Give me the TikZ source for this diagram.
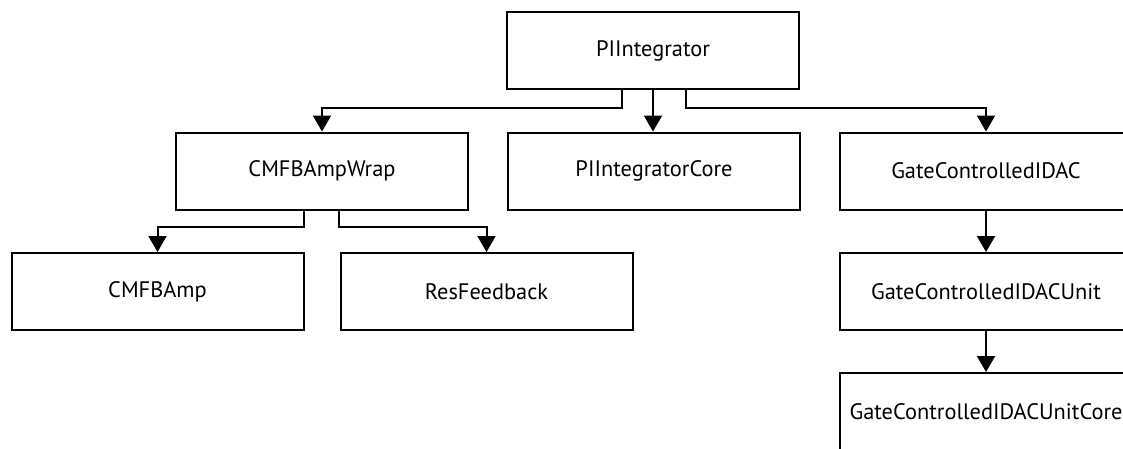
\documentclass[tikz,border=0pt]{standalone}
\usepackage{fontspec}
\setmainfont{PT Sans}
\usetikzlibrary{arrows.meta}
\begin{document}
\begin{tikzpicture}[x=1pt,y=-1pt,
  box/.style={draw=black,line width=2pt,minimum width=292pt,minimum height=77pt,inner sep=0pt,font=\fontsize{22.4}{26}\selectfont},
  arr/.style={draw=black,line width=2pt,-{Triangle[width=18pt,length=16pt]}}]
\clip (0,0) rectangle (1123,448);
\useasboundingbox (0,0) rectangle (1123,448);
\fill[white] (0,0) rectangle (1123,448);
\node[box] (A) at (653,50.5) {PIIntegrator};
\node[box] (B) at (322,171) {CMFBAmpWrap};
\node[box] (C) at (654,171) {PIIntegratorCore};
\node[box] (D) at (986,171) {GateControlledIDAC};
\node[box] (E) at (157.5,291.5) {CMFBAmp};
\node[box] (F) at (486.5,291.5) {ResFeedback};
\node[box] (G) at (986,291.5) {GateControlledIDACUnit};
\node[box] (H) at (986,411.5) {GateControlledIDACUnitCore};
\draw[arr] ([xshift=-31pt]A.south) -- ++(0,18) -| (B.north);
\draw[arr] (A.south) -- (A.south |- C.north);
\draw[arr] ([xshift=33pt]A.south) -- ++(0,18) -| (D.north);
\draw[arr] ([xshift=-18pt]B.south) -- ++(0,16) -| (E.north);
\draw[arr] ([xshift=17pt]B.south) -- ++(0,16) -| (F.north);
\draw[arr] (D.south) -- (G.north);
\draw[arr] (G.south) -- (H.north);
\end{tikzpicture}
\end{document}
